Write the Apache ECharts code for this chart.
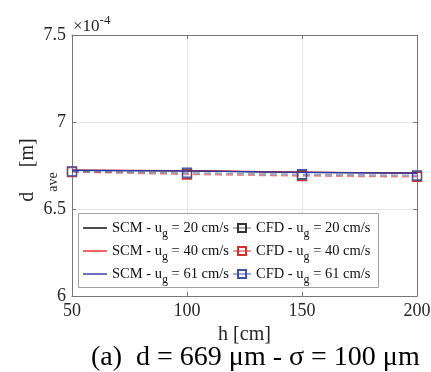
<!DOCTYPE html>
<html><head><meta charset="utf-8">
<script src="https://cdn.jsdelivr.net/npm/echarts@6/dist/echarts.min.js"></script>
<style>html,body{margin:0;padding:0;background:#fff}#c{width:431px;height:372px}</style>
</head><body><div id="c"></div>
<script>
// ---- data ----
const heights = [50, 100, 150, 200];                 // h [cm]
const xTicks = [50, 100, 150, 200];
const yTicks = [6, 6.5, 7, 7.5];                     // x 10^-4 m
const velocities = ['20', '40', '61'];               // u_g [cm/s]
const scm20 = [6.722, 6.719, 6.711, 6.706];
const scm40 = [6.723, 6.720, 6.712, 6.707];
const scm61 = [6.722, 6.719, 6.711, 6.706];
const cfd20 = [6.714, 6.703, 6.694, 6.688];
const cfd40 = [6.712, 6.698, 6.689, 6.684];
const cfd61 = [6.716, 6.709, 6.700, 6.694];
const titleText = '(a)  d = 669 \u03bcm - \u03c3 = 100 \u03bcm';

const FONT = '"Liberation Serif", "DejaVu Serif", serif';
const scmNames = velocities.map(v => 'SCM - u_g = ' + v + ' cm/s');
const cfdNames = velocities.map(v => 'CFD - u_g = ' + v + ' cm/s');
const lineColors = ['#000000', '#e02626', '#2a3aa8'];
const dashColors = ['rgba(0,0,0,0.3)', 'rgba(230,40,40,0.5)', 'rgba(40,60,170,0.45)'];
const markColors = ['#333333', '#d83030', '#4050a8'];

const pair = arr => arr.map((v, i) => [heights[i], v]);
const series = [];
[scm20, scm40, scm61].forEach((d, i) => series.push({
  name: scmNames[i], type: 'line', data: pair(d), symbol: 'none', showSymbol: false,
  lineStyle: {color: lineColors[i], width: 1.2}, itemStyle: {color: lineColors[i]},
  emphasis: {disabled: true}, z: 3
}));
[cfd20, cfd40, cfd61].forEach((d, i) => series.push({
  name: cfdNames[i], type: 'line', data: pair(d), symbol: 'rect', symbolSize: 9,
  showAllSymbol: true,
  lineStyle: {color: dashColors[i], width: 1.3, type: [7, 4]},
  itemStyle: {color: 'rgba(255,255,255,0)', borderColor: markColors[i], borderWidth: 1.2},
  emphasis: {disabled: true}, z: 2
}));

const legRich = {
  a: {fontFamily: FONT, fontSize: 14.5, lineHeight: 16, color: '#111'},
  s: {fontFamily: FONT, fontSize: 12, lineHeight: 12, padding: [8, 0, 0, 0], verticalAlign: 'top', color: '#111'}
};
const legFmt = name => {
  const p = name.split('u_g');
  return '{a|' + p[0] + 'u}{s|g}{a|' + p[1] + '}';
};
const legendBase = {
  orient: 'vertical', itemGap: 3, formatter: legFmt, selectedMode: false,
  textStyle: {rich: legRich}, padding: 0
};

const chart = echarts.init(document.getElementById('c'), null, {renderer: 'canvas'});
chart.setOption({
  animation: false,
  backgroundColor: '#fff',
  grid: {left: 72, right: 14, top: 35, bottom: 76, containLabel: false, outerBoundsMode: 'none'},
  title: {text: titleText, left: 86, top: 339,
    textStyle: {fontFamily: FONT, fontSize: 28, fontWeight: 'normal', color: '#000'}},
  xAxis: [{
    type: 'value', min: xTicks[0], max: xTicks[xTicks.length - 1], interval: 50,
    name: 'h [cm]', nameLocation: 'middle', nameGap: 27,
    nameTextStyle: {fontFamily: FONT, fontSize: 20, color: '#262626'},
    axisLine: {lineStyle: {color: '#777', width: 1}},
    axisTick: {inside: true, length: 4, lineStyle: {color: '#777'}},
    axisLabel: {fontFamily: FONT, fontSize: 18, color: '#262626', margin: 6},
    splitLine: {show: true, lineStyle: {color: '#e6e6e6', width: 1}}
  }, {
    type: 'value', position: 'top', min: xTicks[0], max: xTicks[xTicks.length - 1], interval: 50,
    axisLine: {show: true, lineStyle: {color: '#777'}},
    axisTick: {inside: true, length: 4, lineStyle: {color: '#777'}},
    axisLabel: {show: false}, splitLine: {show: false}
  }],
  yAxis: [{
    type: 'value', min: yTicks[0], max: yTicks[yTicks.length - 1], interval: 0.5,
    axisLine: {show: true, lineStyle: {color: '#777', width: 1}},
    axisTick: {show: true, inside: true, length: 4, lineStyle: {color: '#777'}},
    axisLabel: {fontFamily: FONT, fontSize: 18, color: '#262626', margin: 6,
      formatter: v => String(v)},
    splitLine: {show: true, lineStyle: {color: '#e6e6e6', width: 1}}
  }, {
    type: 'value', position: 'right', min: yTicks[0], max: yTicks[yTicks.length - 1], interval: 0.5,
    axisLine: {show: true, lineStyle: {color: '#777'}},
    axisTick: {show: true, inside: true, length: 4, lineStyle: {color: '#777'}},
    axisLabel: {show: false}, splitLine: {show: false}
  }],
  legend: [
    Object.assign({}, legendBase, {data: scmNames, left: 83, top: 220, itemWidth: 24, itemHeight: 1.4, icon: 'rect'}),
    Object.assign({}, legendBase, {data: cfdNames, left: 232, top: 220, itemWidth: 18, itemHeight: 10,
      lineStyle: {type: 'solid'}})
  ],
  graphic: [
    {type: 'rect', z: 1, shape: {x: 78.5, y: 213.5, width: 300, height: 74},
      style: {fill: '#fff', stroke: '#a0a0a0', lineWidth: 1}},
    {type: 'text', left: 73, top: 11, z: 5, style: {
      text: '{a|\u00d710}{b|-4}',
      rich: {
        a: {fontFamily: FONT, fontSize: 17, lineHeight: 17, padding: [7, 0, 0, 0], fill: '#262626'},
        b: {fontFamily: FONT, fontSize: 13, lineHeight: 13, verticalAlign: 'top', fill: '#262626'}
      }
    }},
    {type: 'text', x: 28, y: 170, rotation: Math.PI / 2, z: 5, style: {
      text: '{a|d}{s|ave}{a| [m]}', align: 'center', verticalAlign: 'middle',
      rich: {
        a: {fontFamily: FONT, fontSize: 20, lineHeight: 20, fill: '#262626'},
        s: {fontFamily: FONT, fontSize: 14, lineHeight: 14, padding: [28, 0, 0, 0], verticalAlign: 'top', fill: '#262626'}
      }
    }}
  ],
  series: series
});
</script>
</body></html>
